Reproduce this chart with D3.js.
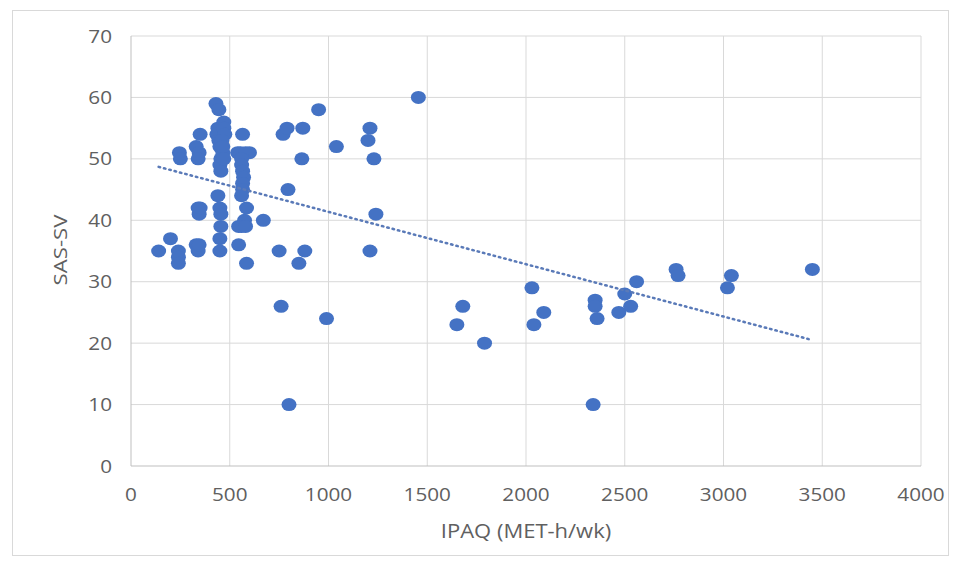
<!DOCTYPE html>
<html><head><meta charset="utf-8">
<script src="https://cdn.jsdelivr.net/npm/d3@7"></script>
<style>body{margin:0;background:#fff}svg{display:block}text{font-family:"Open Sans",sans-serif;fill:#606060}</style>
</head><body><svg id="c" width="960" height="563"></svg>
<script>
const ipaq = [140,200,240,240,240,245,250,330,340,345,340,345,350,330,345,340,350,
  430,445,440,435,445,450,455,450,455,440,450,455,455,450,450,
  470,470,475,465,470,460,465,
  565,540,555,580,600,560,560,565,570,565,565,560,585,575,560,545,580,545,585,
  670,750,760,770,790,795,800,850,870,865,880,950,990,1040,1200,1210,1210,1230,1240,1455,
  1650,1680,1790,2030,2040,2090,2340,2350,2350,2360,2470,2500,2530,2560,2760,2770,3020,3040,3450];
const sassv = [35,37,35,34,33,51,50,36,35,36,42,41,42,52,51,50,54,
  59,58,55,54,53,52,50,49,48,44,42,41,39,37,35,
  56,55,54,51,50,53,52,
  54,51,51,51,51,50,49,48,47,46,45,44,42,40,39,39,39,36,33,
  40,35,26,54,55,45,10,33,55,50,35,58,24,52,53,55,35,50,41,60,
  23,26,20,29,23,25,10,27,26,24,25,28,26,30,32,31,29,31,32];
const xTicks = [0,500,1000,1500,2000,2500,3000,3500,4000];
const yTicks = [0,10,20,30,40,50,60,70];
const trendX = [140,3450];
const trendY = [48.7,20.5];

const svg = d3.select("#c");
svg.append("rect").attr("x",12.5).attr("y",10.5).attr("width",936).attr("height",545)
  .attr("fill","#fff").attr("stroke","#d9d9d9");
const x = d3.scaleLinear().domain([0,4000]).range([131,921]);
const y = d3.scaleLinear().domain([0,70]).range([466,36]);

svg.append("g").selectAll("line").data(yTicks.slice(1)).join("line")
  .attr("x1",131).attr("x2",921).attr("y1",d=>y(d)).attr("y2",d=>y(d))
  .attr("stroke","#d9d9d9").attr("stroke-width",1);
svg.append("g").selectAll("line").data(xTicks.slice(1)).join("line")
  .attr("y1",36).attr("y2",466).attr("x1",d=>x(d)).attr("x2",d=>x(d))
  .attr("stroke","#d9d9d9").attr("stroke-width",1);
svg.append("line").attr("x1",131).attr("x2",131).attr("y1",36).attr("y2",466).attr("stroke","#bfbfbf");
svg.append("line").attr("x1",131).attr("x2",921).attr("y1",466).attr("y2",466).attr("stroke","#bfbfbf");

svg.append("g").selectAll("text").data(yTicks).join("text")
  .attr("transform",d=>`translate(112,${y(d)+6.5}) scale(1.12,1)`)
  .attr("text-anchor","end").attr("font-size",18.5).text(d=>d);
svg.append("g").selectAll("text").data(xTicks).join("text")
  .attr("transform",d=>`translate(${x(d)},501) scale(1.12,1)`)
  .attr("text-anchor","middle").attr("font-size",18.5).text(d=>d);

svg.append("text").attr("transform","translate(67,250) rotate(-90) scale(1.2,1)").attr("text-anchor","middle")
  .attr("font-size",18.5).text("SAS-SV");
svg.append("text").attr("transform","translate(526,538) scale(1.1,1)").attr("text-anchor","middle")
  .attr("font-size",20).text("IPAQ (MET-h/wk)");

const pts = ipaq.map((v,i)=>({x:v,y:sassv[i]}));
svg.append("g").selectAll("ellipse").data(pts).join("ellipse")
  .attr("cx",d=>x(d.x)).attr("cy",d=>y(d.y)).attr("rx",7.5).attr("ry",6.5)
  .attr("fill","#4472C4");

svg.append("line").attr("x1",x(trendX[0])).attr("y1",y(trendY[0]))
  .attr("x2",x(trendX[1])).attr("y2",y(trendY[1]))
  .attr("stroke","#5a7ab8").attr("stroke-width",2.5).attr("stroke-dasharray","1.5,4").attr("stroke-linecap","round");
</script></body></html>
